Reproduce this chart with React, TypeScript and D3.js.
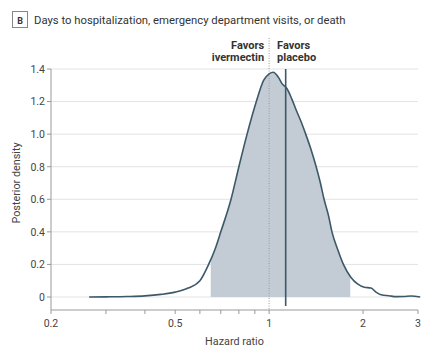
import React from "react";
import * as d3 from "d3";

const hazardRatio = [0.265, 0.3, 0.35, 0.4, 0.45, 0.5, 0.55, 0.6, 0.64, 0.67, 0.7, 0.755, 0.8, 0.85, 0.91, 0.96, 1.0, 1.03, 1.07, 1.1, 1.14, 1.18, 1.22, 1.27, 1.31, 1.36, 1.41, 1.46, 1.5, 1.55, 1.59, 1.66, 1.73, 1.83, 1.92, 2.02, 2.12, 2.2, 2.3, 2.42, 2.55, 2.7, 2.85, 3.05];
const density = [0, 0.001, 0.003, 0.007, 0.016, 0.03, 0.055, 0.1, 0.2, 0.29, 0.4, 0.6, 0.8, 1.0, 1.2, 1.33, 1.37, 1.38, 1.35, 1.31, 1.28, 1.22, 1.15, 1.07, 1.0, 0.91, 0.81, 0.7, 0.6, 0.5, 0.4, 0.29, 0.2, 0.12, 0.08, 0.06, 0.055, 0.03, 0.012, 0.008, 0.002, 0.003, 0.006, 0];
const credibleInterval = [0.65, 1.82];
const medianHR = 1.13;
const yTicks = [0, 0.2, 0.4, 0.6, 0.8, 1.0, 1.2, 1.4];
const yTickLabels = ["0", "0.2", "0.4", "0.6", "0.8", "1.0", "1.2", "1.4"];
const xTicks = [0.2, 0.3, 0.4, 0.5, 0.6, 0.7, 0.8, 0.9, 1, 2, 3];
const xLabeled = [0.2, 0.5, 1, 2, 3];
const xTickLabels = ["0.2", "0.5", "1", "2", "3"];

const FONT = "Roboto, 'Noto Sans', sans-serif";

export default function App() {
  const W = 447, H = 361;
  const x = d3.scaleLog().domain([0.2, 3]).range([51, 418]);
  const y = d3.scaleLinear().domain([0, 1.4]).range([297, 69]);
  const pts = hazardRatio.map((h, i) => [h, density[i]] as [number, number]);
  const line = d3.line<[number, number]>().x(d => x(d[0])).y(d => y(d[1])).curve(d3.curveMonotoneX);
  const area = d3.area<[number, number]>().x(d => x(d[0])).y0(y(0)).y1(d => y(d[1])).curve(d3.curveMonotoneX);
  const axisY = 310;
  const textCol = "#444";
  return (
    <svg width={W} height={H} style={{ position: "absolute", left: 0, top: 0, background: "#fff" }}>
      <defs>
        <clipPath id="ci">
          <rect x={x(credibleInterval[0])} y={0} width={x(credibleInterval[1]) - x(credibleInterval[0])} height={y(0)} />
        </clipPath>
      </defs>
      {/* title */}
      <rect x={12.5} y={11.5} width={15} height={16} fill="#fff" stroke="#888" strokeWidth={1} />
      <text x={20} y={23.5} textAnchor="middle" fontFamily={FONT} fontWeight="bold" fontSize={9} fill="#333">B</text>
      <text x={34} y={24} fontFamily={FONT} fontSize={11.3} fill="#333">Days to hospitalization, emergency department visits, or death</text>

      {/* grid */}
      {yTicks.map(t => (
        <line key={t} x1={51} x2={418} y1={y(t)} y2={y(t)} stroke="#e3e3e3" strokeWidth={1} />
      ))}

      {/* shaded interval */}
      <path d={area(pts) || ""} fill="#c3ccd4" clipPath="url(#ci)" />

      {/* reference line at 1 */}
      <line x1={x(1)} x2={x(1)} y1={38} y2={axisY} stroke="#9a9a9a" strokeWidth={1} strokeDasharray="1,1.5" />

      {/* curve */}
      <path d={line(pts) || ""} fill="none" stroke="#3d5869" strokeWidth={1.6} />

      {/* median line */}
      <line x1={x(medianHR)} x2={x(medianHR)} y1={y(1.4)} y2={306} stroke="#3d5869" strokeWidth={1.6} />

      {/* axes */}
      <line x1={51} x2={51} y1={y(1.4)} y2={axisY} stroke="#999" strokeWidth={1} />
      <line x1={51} x2={418} y1={axisY} y2={axisY} stroke="#999" strokeWidth={1} />
      {yTicks.map((t, i) => (
        <g key={t}>
          <line x1={47} x2={51} y1={y(t)} y2={y(t)} stroke="#999" />
          <text x={45} y={y(t) + 3.8} textAnchor="end" fontFamily={FONT} fontSize={10.5} fill={textCol}>{yTickLabels[i]}</text>
        </g>
      ))}
      {xTicks.map(t => (
        <line key={t} x1={x(t)} x2={x(t)} y1={axisY} y2={axisY + 4} stroke="#999" />
      ))}
      {xLabeled.map((t, i) => (
        <text key={t} x={x(t)} y={327} textAnchor="middle" fontFamily={FONT} fontSize={10.5} fill={textCol}>{xTickLabels[i]}</text>
      ))}
      <text x={234.5} y={345} textAnchor="middle" fontFamily={FONT} fontSize={10.8} fill={textCol}>Hazard ratio</text>
      <text transform={`translate(20,${y(0.7)}) rotate(-90)`} textAnchor="middle" fontFamily={FONT} fontSize={10.8} fill={textCol}>Posterior density</text>

      {/* favors labels */}
      <text x={x(1) - 5} y={49} textAnchor="end" fontFamily={FONT} fontWeight="bold" fontSize={11} fill="#333">Favors</text>
      <text x={x(1) - 5} y={61} textAnchor="end" fontFamily={FONT} fontWeight="bold" fontSize={11} fill="#333">ivermectin</text>
      <text x={x(1) + 8} y={49} textAnchor="start" fontFamily={FONT} fontWeight="bold" fontSize={11} fill="#333">Favors</text>
      <text x={x(1) + 8} y={61} textAnchor="start" fontFamily={FONT} fontWeight="bold" fontSize={11} fill="#333">placebo</text>
    </svg>
  );
}
